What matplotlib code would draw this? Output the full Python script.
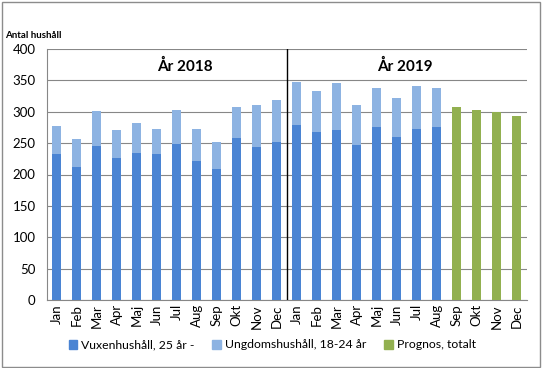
import matplotlib
matplotlib.use("Agg")
import matplotlib.pyplot as plt
import matplotlib.patches as mpatches
import numpy as np

plt.rcParams['font.family'] = ['Lato', 'DejaVu Sans']

months = ["Jan", "Feb", "Mar", "Apr", "Maj", "Jun", "Jul", "Aug", "Sep", "Okt", "Nov", "Dec",
          "Jan", "Feb", "Mar", "Apr", "Maj", "Jun", "Jul", "Aug", "Sep", "Okt", "Nov", "Dec"]

# Actual months: Jan 2018 - Aug 2019
vuxen = [232, 212, 245, 226, 234, 233, 249, 221, 209, 258, 244, 252,
         279, 268, 271, 247, 276, 259, 273, 276]
ungdom = [46, 45, 56, 45, 48, 39, 54, 51, 43, 50, 67, 67,
          68, 65, 75, 64, 62, 63, 68, 62]
# Forecast Sep - Dec 2019
prognos = [308, 303, 300, 293]

labels = ["Vuxenhushåll, 25 år -", "Ungdomshushåll, 18-24 år", "Prognos, totalt"]
year_labels = ["År 2018", "År 2019"]

c_dark = "#4A84D3"
c_light = "#8DB3E2"
c_green = "#92B050"
grid_c = "#878787"

fig = plt.figure(figsize=(5.42, 3.68), dpi=100)
ax = fig.add_axes([46.7 / 542, 1 - 300 / 368, 480 / 542, 251 / 368])

n_act = len(vuxen)
x_act = np.arange(n_act)
x_prog = np.arange(n_act, n_act + len(prognos))
w = 0.43

ax.bar(x_act, vuxen, width=w, color=c_dark, zorder=3)
ax.bar(x_act, ungdom, width=w, bottom=vuxen, color=c_light, zorder=3)
ax.bar(x_prog, prognos, width=w, color=c_green, zorder=3)

ax.set_xlim(-0.5, len(months) - 0.5)
ax.set_ylim(0, 400)
ax.set_yticks(np.arange(0, 401, 50))
ax.set_xticks(np.arange(len(months)))
ax.set_xticklabels(months, rotation=90, fontsize=9.5)
ax.tick_params(axis='y', length=0, pad=8, labelsize=9.5)
ax.tick_params(axis='x', length=0, pad=3)
ax.yaxis.grid(True, color=grid_c, linewidth=0.8, zorder=0)
ax.set_axisbelow(True)
for s in ["top", "right"]:
    ax.spines[s].set_visible(False)
for s in ["left", "bottom"]:
    ax.spines[s].set_color(grid_c)
    ax.spines[s].set_linewidth(0.8)

ax.axvline(11.5, color="black", linewidth=1.0, zorder=4)
ax.text(6.43, 373, year_labels[0], ha="center", va="center", fontsize=11, fontweight="bold")
ax.text(17.4, 373, year_labels[1], ha="center", va="center", fontsize=11, fontweight="bold")

fig.text(5 / 542, 1 - 36 / 368, "Antal hushåll", ha="left", va="center", fontsize=7, fontweight="bold")

handles = [mpatches.Patch(color=c_dark), mpatches.Patch(color=c_light), mpatches.Patch(color=c_green)]
fig.legend(handles, labels, loc="center", bbox_to_anchor=(0.502, 1 - 345 / 368), ncol=3,
           frameon=False, fontsize=8.8, handlelength=0.7, handleheight=0.7,
           handletextpad=0.3, columnspacing=1.5)

fig.add_artist(mpatches.Rectangle((1.5 / 542, 1.5 / 368), 538 / 542, 365 / 368,
                                  transform=fig.transFigure, fill=False,
                                  edgecolor="#8c8c8c", linewidth=1))

fig.savefig("out.png", dpi=100)
